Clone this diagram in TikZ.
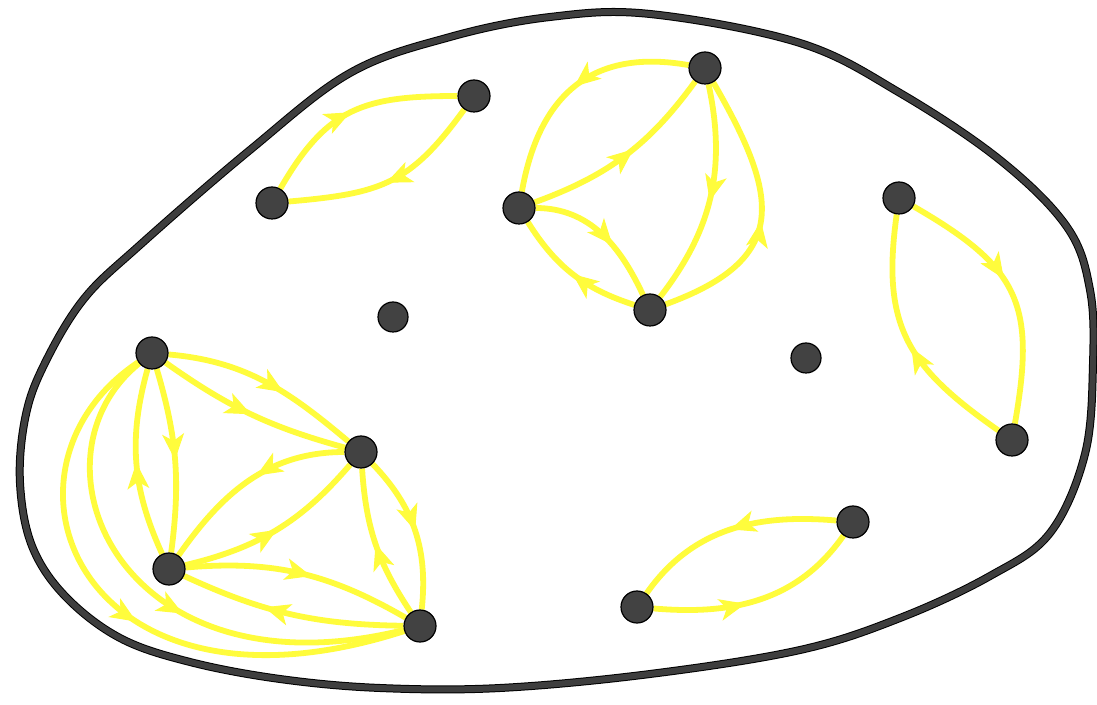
\documentclass[tikz,border=0pt]{standalone}
\usetikzlibrary{arrows.meta,decorations.markings}
\definecolor{ylw}{RGB}{255,252,60}
\definecolor{dot}{RGB}{66,66,66}
\definecolor{rim}{RGB}{62,62,62}
\pgfdeclarelayer{bg}
\pgfsetlayers{bg,main}
\tikzset{
  vtx/.style={circle, fill=dot, draw=black, line width=1.2pt, minimum size=32pt, inner sep=0pt},
  e/.style={color=ylw, line width=5.8pt, postaction={decorate},
    decoration={markings, mark=at position #1 with {\arrow[line width=1pt]{Stealth[length=26pt,width=22pt,inset=7pt]}}}},
  e/.default=0.5,
  blob/.style={draw=black, line width=1pt, double=rim, double distance=6pt}
}
\begin{document}
\begin{tikzpicture}[x=1pt,y=1pt]
\useasboundingbox (0,0) rectangle (1097,704);
% nodes
\node[vtx] (A) at (152,351) {};
\node[vtx] (B) at (361,252) {};
\node[vtx] (C) at (169,135) {};
\node[vtx] (D) at (420,78) {};
\node[vtx] (E) at (272,501) {};
\node[vtx] (F) at (474,608) {};
\node[vtx] (G) at (519,496) {};
\node[vtx] (H) at (705,636) {};
\node[vtx] (I) at (650,394) {};
\node[vtx] (J) at (899,506) {};
\node[vtx] (K) at (1012,264) {};
\node[vtx] (L) at (637,97) {};
\node[vtx] (M) at (853,182) {};
\node[vtx, minimum size=30pt] (N) at (393,387) {};
\node[vtx, minimum size=30pt] (O) at (806,346) {};
\begin{pgfonlayer}{bg}
\fill[white] (0,0) rectangle (1097,704);
% outline
\draw[blob] plot[smooth cycle, tension=0.6] coordinates {
 (250,554) (350,631) (450,667) (550,687) (650,690) (800,661) (900,611)
 (1000,544) (1067,477) (1090,414) (1093,340) (1085,250) (1050,171) (990,128)
 (900,86) (800,54) (650,30) (500,16) (380,16) (280,25) (190,42) (120,66)
 (65,108) (32,158) (20,221) (25,285) (43,337) (83,404) (140,459)};
% cluster A B C D
\draw[e=0.6] (A) to[out=-5,in=140] (B);
\draw[e=0.5] (A) to[bend right=10] (B);
\draw[e=0.5] (A) to[bend left=12] (C);
\draw[e=0.5] (C) to[bend left=20] (A);
\draw[e=0.45] (B) to[out=180,in=55] (C);
\draw[e=0.5] (C) to[bend right=18] (B);
\draw[e=0.5] (B) to[out=-46,in=84] (D);
\draw[e=0.5] (D) to[bend left=15] (B);
\draw[e=0.55] (C) to[out=5,in=150] (D);
\draw[e=0.62] (D) to[bend left=12] (C);
\draw[e=0.53] (A) .. controls (-23,234) and (79,-32) .. (D);
\draw[e=0.57] (A) .. controls (20,244) and (120,4) .. (D);
% cluster G H I
\draw[e=0.5] (H) to[out=170,in=80,looseness=1.2] (G);
\draw[e=0.55] (G) to[bend right=17] (H);
\draw[e=0.6] (G) to[out=0,in=115] (I);
\draw[e=0.5] (I) to[bend left=20] (G);
\draw[e=0.52] (H) to[bend left=25] (I);
\draw[e=0.47] (I) to[out=20,in=300,looseness=1.5] (H);
% E F
\draw[e=0.49] (E) to[out=60,in=180,looseness=1.2] (F);
\draw[e=0.52] (F) to[out=234,in=5,looseness=1.2] (E);
% J K
\draw[e=0.44] (J) to[out=-30,in=80,looseness=1.3] (K);
\draw[e=0.47] (K) to[out=145,in=262,looseness=1.2] (J);
% L M
\draw[e=0.5] (M) to[out=175,in=55] (L);
\draw[e=0.43] (L) to[out=-5,in=235] (M);
\end{pgfonlayer}
\end{tikzpicture}
\end{document}
